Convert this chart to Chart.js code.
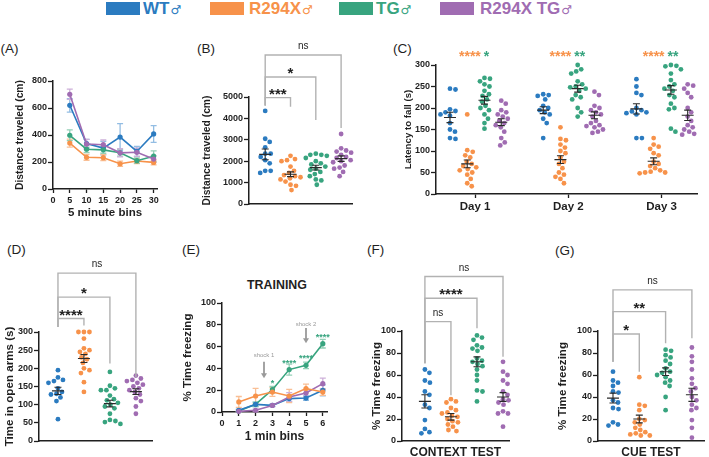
<!DOCTYPE html>
<html>
<head>
<meta charset="utf-8">
<script src="https://cdn.jsdelivr.net/npm/chart.js"></script>
<style>
  body { margin:0; padding:0; background:#fff; width:709px; height:457px; position:relative; overflow:hidden;
         font-family:"Liberation Sans", Arial, sans-serif; color:#1f1f1f }
  canvas { position:absolute }
  .t { position:absolute; line-height:1; white-space:nowrap }
  .box { position:absolute; top:2px; width:34px; height:13px }
  .leg { position:absolute; top:0px; font-size:17px; font-weight:bold; line-height:17px; white-space:nowrap }
  .leg span { font-family:"DejaVu Sans", sans-serif; font-size:12px; font-weight:normal; margin-left:1px }
</style>
</head>
<body>
<script>
// ---- data ----
const groups = ['WT♂', 'R294X♂', 'TG♂', 'R294X TG♂'];

// (A) open field, 5 minute bins
const binsA = [5, 10, 15, 20, 25, 30];
const openWT = [620, 337, 303, 385, 278, 408];
const openWTsem = [50, 30, 50, 100, 37, 62];
const openR294X = [340, 235, 232, 187, 207, 197];
const openR294Xsem = [30, 22, 22, 20, 18, 18];
const openTG = [398, 295, 290, 268, 210, 243];
const openTGsem = [40, 25, 25, 25, 20, 40];
const openR294XTG = [702, 333, 328, 268, 272, 222];
const openR294XTGsem = [38, 35, 35, 30, 30, 25];

// (B) total distance
const distWT = [4350, 3050, 2900, 2650, 2350, 2350, 2200, 2050, 1900, 1550, 1550, 1450];
const distR294X = [2250, 2100, 2050, 2000, 1750, 1550, 1450, 1350, 1300, 1250, 1200, 1150, 1050, 900, 850, 650];
const distTG = [2350, 2300, 2300, 2250, 2150, 2000, 1900, 1850, 1750, 1650, 1600, 1500, 1400, 1300, 1150, 1100, 900];
const distR294XTG = [3270, 2600, 2500, 2450, 2400, 2300, 2200, 2150, 2050, 2000, 1950, 1800, 1700, 1650, 1500, 1300];
const distMean = [2320, 1390, 1700, 2120];
const distSem = [250, 110, 110, 130];
const distBrackets = [
  {from: 0, to: 1, y: 4970, label: '***', legA: 4600, legB: 4550},
  {from: 0, to: 2, y: 5935, label: '*', legA: 4600, legB: 3925},
  {from: 0, to: 3, y: 6963, label: 'ns', legA: 4600, legB: 3550}
];

// (C) rotarod, per day
const days = ['Day 1', 'Day 2', 'Day 3'];
const rotaWT = [
  [245, 243, 197, 193, 190, 185, 182, 165, 150, 145, 130, 128],
  [232, 230, 228, 220, 205, 200, 195, 190, 185, 175, 165, 130],
  [267, 250, 235, 230, 200, 195, 192, 190, 188, 185, 130, 130]
];
const rotaR294X = [
  [185, 102, 98, 90, 85, 75, 70, 65, 62, 58, 55, 50, 45, 35, 25, 18],
  [155, 128, 125, 115, 108, 100, 95, 85, 75, 70, 60, 50, 45, 40, 35, 25],
  [130, 115, 110, 105, 95, 90, 75, 70, 65, 60, 55, 52, 50, 50, 48]
];
const rotaTG = [
  [270, 268, 262, 255, 250, 240, 232, 228, 220, 215, 205, 200, 195, 185, 175, 165, 152],
  [300, 290, 285, 280, 262, 255, 250, 248, 245, 240, 230, 225, 220, 200, 190, 180],
  [300, 298, 297, 290, 280, 265, 255, 250, 245, 240, 230, 225, 210, 200, 197, 152, 145]
];
const rotaR294XTG = [
  [217, 210, 195, 190, 185, 180, 175, 170, 165, 160, 155, 145, 130, 120, 113],
  [238, 230, 205, 200, 195, 190, 185, 180, 170, 165, 160, 158, 155, 150, 145, 142],
  [255, 252, 245, 235, 225, 200, 190, 180, 170, 160, 155, 150, 145, 140, 138]
];
const rotaMean = [[178, 70, 218, 167], [195, 80, 245, 183], [198, 76, 242, 183]];
const rotaSem = [[12, 9, 9, 8], [8, 9, 8, 8], [12, 8, 10, 12]];
const rotaStarsR294X = ['****', '****', '****'];
const rotaStarsTG = ['*', '**', '**'];

// (D) elevated plus maze
const openArmsWT = [195, 175, 168, 165, 160, 145, 135, 130, 128, 120, 110, 60];
const openArmsR294X = [300, 300, 300, 282, 255, 250, 245, 240, 230, 225, 215, 200, 195, 187, 162, 135];
const openArmsTG = [190, 152, 145, 140, 140, 125, 115, 112, 105, 100, 95, 90, 75, 58, 55, 52, 47];
const openArmsR294XTG = [180, 172, 168, 165, 160, 155, 150, 145, 140, 135, 128, 118, 110, 95, 75];
const openArmsMean = [138, 227, 103, 136];
const openArmsSem = [10, 11, 9, 8];
const openArmsBrackets = [
  {from: 0, to: 1, y: 337, label: '****', legA: 314, legB: 318},
  {from: 0, to: 2, y: 396, label: '*', legA: 314, legB: 213},
  {from: 0, to: 3, y: 462, label: 'ns', legA: 314, legB: 176}
];

// (E) training, 1 min bins
const binsE = [1, 2, 3, 4, 5, 6];
const trainWT = [1.6, 7, 6.1, 12.3, 12.8, 19.9];
const trainWTsem = [1, 2, 1, 3, 2, 5];
const trainR294X = [9.2, 14.7, 18.3, 14.7, 21.5, 18.3];
const trainR294Xsem = [5, 7, 4, 6, 4, 3];
const trainTG = [1, 7, 20.5, 38.9, 42.8, 62.7];
const trainTGsem = [1, 2, 3, 5, 3, 4];
const trainR294XTG = [0.6, 1.6, 6, 13.8, 17.4, 26];
const trainR294XTGsem = [0.5, 1, 1, 4, 3, 5];
const trainStarX = [3, 4, 5, 6];
const trainStarY = [29, 47, 52, 71];
const trainStars = ['*', '****', '****', '****'];
const shocks = [
  {x: 2.5, label: 'shock 1', textY: 52, from: 46, to: 31},
  {x: 5, label: 'shock 2', textY: 81, from: 77, to: 63}
];

// (F) context test
const contextWT = [65, 62, 55, 53, 45, 42, 33, 30, 19, 11, 8, 7];
const contextR294X = [38, 36, 35, 30, 28, 26, 25, 23, 22, 20, 18, 17, 15, 13, 10, 9];
const contextTG = [96, 94, 92, 87, 85, 84, 82, 75, 73, 72, 70, 68, 65, 60, 55, 46, 45, 36];
const contextR294XTG = [72, 63, 60, 55, 52, 45, 42, 38, 37, 35, 33, 27, 25, 25, 24, 13];
const contextMean = [36, 22, 72, 40];
const contextSem = [6, 3, 4.5, 4];
const contextBrackets = [
  {from: 0, to: 1, y: 108.5, label: 'ns', legA: 70.6, legB: 41.7},
  {from: 0, to: 2, y: 129.8, label: '****', legA: 70.6, legB: 102.5},
  {from: 0, to: 3, y: 149.5, label: 'ns', legA: 70.6, legB: 76.6}
];

// (G) cue test
const cueWT = [63, 55, 53, 50, 45, 44, 37, 35, 30, 29, 17, 15, 14];
const cueR294X = [58, 33, 32, 28, 20, 19, 17, 15, 12, 10, 8, 7, 6, 5, 5];
const cueTG = [83, 82, 78, 76, 73, 70, 66, 63, 62, 60, 58, 55, 53, 50, 40, 28];
const cueR294XTG = [85, 77, 72, 65, 57, 52, 48, 45, 40, 37, 33, 30, 28, 19, 12, 3];
const cueMean = [39, 20, 63, 42];
const cueSem = [4.5, 3.5, 3.5, 6];
const cueBrackets = [
  {from: 0, to: 1, y: 97.3, label: '*', legA: 72, legB: 63},
  {from: 0, to: 2, y: 117.6, label: '**', legA: 72, legB: 88.8},
  {from: 0, to: 3, y: 137.4, label: 'ns', legA: 72, legB: 93.3}
];

// ---- style / layout ----
const COLORS = ['#2b7bc0', '#f7924a', '#38a47f', '#a06cb2'];
const LIGHT = ['#93bde3', '#f9bf95', '#94d0b7', '#cdb0d9'];
const INK = '#1f1f1f';
const FONT = '"Liberation Sans", Arial, sans-serif';
Chart.defaults.font.family = FONT;
Chart.defaults.color = INK;

// canvas box (cx,cy,w,h), chart area (l,t,r,b), y title centre x (ty)
const P = {
  A: {cx: 0, cy: 40, w: 180, h: 190, l: 53, t: 81, r: 157, b: 189, ty: 20},
  B: {cx: 180, cy: 40, w: 180, h: 190, l: 249, t: 97, r: 352, b: 204, ty: 207},
  C: {cx: 360, cy: 40, w: 349, h: 190, l: 436, t: 65, r: 697, b: 194, ty: 408},
  D: {cx: 0, cy: 230, w: 180, h: 227, l: 39, t: 332, r: 152, b: 441, ty: 10},
  E: {cx: 180, cy: 230, w: 180, h: 227, l: 222, t: 303, r: 327, b: 412, ty: 188},
  F: {cx: 360, cy: 230, w: 175, h: 227, l: 402, t: 331, r: 509, b: 441, ty: 377},
  G: {cx: 535, cy: 230, w: 174, h: 227, l: 598, t: 331, r: 704, b: 441, ty: 563}
};

function addText(txt, x, baseline, size, opts = {}) {
  const d = document.createElement('div');
  d.className = 't';
  d.textContent = txt;
  d.style.fontSize = size + 'px';
  d.style.fontWeight = opts.bold ? 'bold' : 'normal';
  d.style.top = (baseline - 0.85 * size) + 'px';
  d.style.left = x + 'px';
  if (opts.center) d.style.transform = 'translateX(-50%)';
  document.body.appendChild(d);
}

// legend
[[106, 143], [210, 249], [339, 376], [440, 480]].forEach(([bx, tx], i) => {
  const b = document.createElement('div');
  b.className = 'box'; b.style.left = bx + 'px'; b.style.background = COLORS[i];
  document.body.appendChild(b);
  const t = document.createElement('div');
  t.className = 'leg'; t.style.left = tx + 'px'; t.style.color = COLORS[i];
  t.innerHTML = groups[i].replace('♂', '') + '<span>♂</span>';
  document.body.appendChild(t);
});

// panel letters
[['(A)', 0.5, 53.5], ['(B)', 197, 53.5], ['(C)', 393, 53], ['(D)', 7, 254.5],
 ['(E)', 182, 254.5], ['(F)', 367, 254.5], ['(G)', 555, 255.5]].forEach(([s, x, y]) => addText(s, x, y, 13.5));
addText('TRAINING', 277, 290, 12.4, {bold: true, center: true});

function makeCanvas(p) {
  const c = document.createElement('canvas');
  c.width = p.w; c.height = p.h;
  c.style.left = p.cx + 'px'; c.style.top = p.cy + 'px';
  document.body.appendChild(c);
  return c;
}

const TICKFONT = {size: 9, weight: 'bold'};

function yAxis(p, min, max, step, title, tsize) {
  return {
    type: 'linear', min, max,
    ticks: {stepSize: step, includeBounds: false, font: TICKFONT, color: INK, padding: 1, callback: v => String(v)},
    grid: {drawOnChartArea: false, drawTicks: true, tickLength: 5, tickColor: INK, tickWidth: 1.3},
    border: {color: INK, width: 1.5},
    title: {display: true, text: title, color: INK, font: {size: tsize, weight: 'bold'},
            padding: {top: p.ty - p.cx - 0.6 * tsize, bottom: 0}},
    afterFit: s => { s.width = p.l - p.cx; }
  };
}

function xAxis(p, min, max, extra = {}) {
  const ax = {
    type: 'linear', min, max,
    ticks: {display: false},
    grid: {drawOnChartArea: false, drawTicks: false, tickColor: INK, tickWidth: 1.3},
    border: {color: INK, width: 1.5},
    title: {display: false},
    afterFit: s => { s.height = p.cy + p.h - p.b; }
  };
  if (extra.step) {
    ax.ticks = {display: true, stepSize: extra.step, includeBounds: false, font: TICKFONT, color: INK, padding: 2,
                callback: v => String(v)};
    ax.grid.drawTicks = true; ax.grid.tickLength = 4;
  }
  if (extra.title) {
    ax.title = {display: true, text: extra.title, color: INK, font: {size: extra.tsize, weight: 'bold'},
                padding: {top: 0, bottom: extra.tpad}};
  }
  return ax;
}

function baseOptions(p, scales) {
  return {
    responsive: false, animation: false, events: [],
    layout: {padding: {left: 0, top: p.t - p.cy, right: p.cx + p.w - p.r, bottom: 0}},
    plugins: {legend: {display: false}, tooltip: {enabled: false}, title: {display: false}},
    scales
  };
}

// beeswarm offsets in pixels, from the values and the y pixel scale
function swarm(values, pxY, r) {
  const d = 2 * r + 0.6;
  const idx = values.map((_, i) => i).sort((a, b) => values[b] - values[a]);
  const placed = [];
  const out = new Array(values.length).fill(0);
  idx.forEach(i => {
    const py = values[i] * pxY;
    for (let k = 0; k < 400; k++) {
      const cx = (k % 2 ? 1 : -1) * Math.ceil(k / 2) * 0.5;
      if (placed.every(q => (q.x - cx) ** 2 + (q.y - py) ** 2 >= d * d)) {
        placed.push({x: cx, y: py}); out[i] = cx; break;
      }
    }
  });
  return out;
}

function dotSet(values, xc, pxX, pxY, color) {
  const offs = swarm(values, pxY, 2.4);
  return {
    data: values.map((v, i) => ({x: xc + offs[i] / pxX, y: v})),
    backgroundColor: color, borderWidth: 0, pointRadius: 2.4, pointHoverRadius: 2.4, clip: false
  };
}

function lineSet(xs, ys, color) {
  return {
    data: xs.map((x, i) => ({x, y: ys[i]})), showLine: true,
    borderColor: color, borderWidth: 1.6, backgroundColor: color,
    pointRadius: 2.6, pointHoverRadius: 2.6, pointBorderWidth: 0, clip: false
  };
}

// error bars (light) behind the lines
function errPlugin(xs, series) {
  return {id: 'errbars', beforeDatasetsDraw(chart) {
    const {ctx, scales: {x, y}} = chart;
    ctx.save(); ctx.lineWidth = 1.3;
    series.forEach(s => {
      ctx.strokeStyle = s.color;
      xs.forEach((xv, i) => {
        const px = x.getPixelForValue(xv);
        const lo = y.getPixelForValue(s.y[i] - s.e[i]), hi = y.getPixelForValue(s.y[i] + s.e[i]);
        ctx.beginPath();
        ctx.moveTo(px, lo); ctx.lineTo(px, hi);
        ctx.moveTo(px - 3, lo); ctx.lineTo(px + 3, lo);
        ctx.moveTo(px - 3, hi); ctx.lineTo(px + 3, hi);
        ctx.stroke();
      });
    });
    ctx.restore();
  }};
}

// mean +/- SEM lines on dot plots
function meanPlugin(items) {
  return {id: 'meansem', afterDatasetsDraw(chart) {
    const {ctx, scales: {x, y}} = chart;
    ctx.save(); ctx.strokeStyle = '#2a2a2a'; ctx.lineWidth = 1.1;
    items.forEach(it => {
      const px = x.getPixelForValue(it.x), pm = y.getPixelForValue(it.m);
      const lo = y.getPixelForValue(it.m - it.s), hi = y.getPixelForValue(it.m + it.s);
      ctx.beginPath();
      ctx.moveTo(px - 6, pm); ctx.lineTo(px + 6, pm);
      ctx.moveTo(px, lo); ctx.lineTo(px, hi);
      ctx.moveTo(px - 3.5, lo); ctx.lineTo(px + 3.5, lo);
      ctx.moveTo(px - 3.5, hi); ctx.lineTo(px + 3.5, hi);
      ctx.stroke();
    });
    ctx.restore();
  }};
}

// significance brackets
function bracketPlugin(list) {
  return {id: 'brackets', afterDraw(chart) {
    const {ctx, scales: {x, y}} = chart;
    ctx.save();
    list.forEach(b => {
      const x0 = x.getPixelForValue(b.from), x1 = x.getPixelForValue(b.to), yl = y.getPixelForValue(b.y);
      ctx.strokeStyle = '#b2b2b2'; ctx.lineWidth = 1.4;
      ctx.beginPath();
      ctx.moveTo(x0, y.getPixelForValue(b.legA)); ctx.lineTo(x0, yl);
      ctx.lineTo(x1, yl); ctx.lineTo(x1, y.getPixelForValue(b.legB));
      ctx.stroke();
      ctx.fillStyle = INK; ctx.textAlign = 'center'; ctx.textBaseline = 'alphabetic';
      if (b.label === 'ns') {
        ctx.font = '10px ' + FONT;
        ctx.fillText('ns', (x0 + x1) / 2, yl - 5.7);
      } else {
        ctx.font = 'bold 15px ' + FONT;
        ctx.fillText(b.label, (x0 + x1) / 2, yl + 1);
      }
    });
    ctx.restore();
  }};
}

// ---- (A) ----
(() => {
  const p = P.A;
  const series = [[openWT, openWTsem], [openR294X, openR294Xsem], [openTG, openTGsem], [openR294XTG, openR294XTGsem]];
  new Chart(makeCanvas(p), {
    type: 'scatter',
    data: {datasets: [3, 2, 1, 0].map(g => lineSet(binsA, series[g][0], COLORS[g]))},
    options: baseOptions(p, {
      x: xAxis(p, 0, 31, {step: 5, title: '5 minute bins', tsize: 11.5, tpad: 10}),
      y: yAxis(p, 0, 800, 200, 'Distance traveled (cm)', 10.3)
    }),
    plugins: [errPlugin(binsA, series.map((s, g) => ({y: s[0], e: s[1], color: LIGHT[g]})))]
  });
})();

// dot plot panels B, D, F, G
function dotPanel(p, lists, means, sems, brackets, ymax, ystep, ytitle, ytsize, xmin, xmax, xtitle) {
  const pxX = (p.r - p.l) / (xmax - xmin), pxY = (p.b - p.t) / ymax;
  const extra = xtitle ? {title: xtitle, tsize: 12, tpad: -3} : {};
  new Chart(makeCanvas(p), {
    type: 'scatter',
    data: {datasets: lists.map((vals, g) => dotSet(vals, g, pxX, pxY, COLORS[g]))},
    options: baseOptions(p, {
      x: xAxis(p, xmin, xmax, extra),
      y: yAxis(p, 0, ymax, ystep, ytitle, ytsize)
    }),
    plugins: [meanPlugin(means.map((m, g) => ({x: g, m, s: sems[g]}))), bracketPlugin(brackets)]
  });
}

dotPanel(P.B, [distWT, distR294X, distTG, distR294XTG], distMean, distSem, distBrackets,
         5000, 1000, 'Distance traveled (cm)', 10.3, -0.64, 3.43);
dotPanel(P.D, [openArmsWT, openArmsR294X, openArmsTG, openArmsR294XTG], openArmsMean, openArmsSem, openArmsBrackets,
         300, 50, 'Time in open arms (s)', 11.6, -0.73, 3.62);
dotPanel(P.F, [contextWT, contextR294X, contextTG, contextR294XTG], contextMean, contextSem, contextBrackets,
         100, 20, '% Time freezing', 11.6, -0.88, 3.23, 'CONTEXT TEST');
dotPanel(P.G, [cueWT, cueR294X, cueTG, cueR294XTG], cueMean, cueSem, cueBrackets,
         100, 20, '% Time freezing', 11.6, -0.57, 3.46, 'CUE TEST');

// ---- (C) ----
(() => {
  const p = P.C;
  const xmin = 0.58, xmax = 3.38, groupOff = [-0.27, -0.085, 0.1, 0.28];
  const pxX = (p.r - p.l) / (xmax - xmin), pxY = (p.b - p.t) / 300;
  const lists = [rotaWT, rotaR294X, rotaTG, rotaR294XTG];
  const sets = [], items = [];
  days.forEach((_, d) => lists.forEach((l, g) => {
    sets.push(dotSet(l[d], d + 1 + groupOff[g], pxX, pxY, COLORS[g]));
    items.push({x: d + 1 + groupOff[g], m: rotaMean[d][g], s: rotaSem[d][g]});
  }));
  const x = xAxis(p, xmin, xmax);
  x.ticks = {display: true, font: {size: 11.5, weight: 'bold'}, color: INK, padding: 2, callback: v => days[v - 1]};
  x.grid.drawTicks = true; x.grid.tickLength = 4;
  x.afterBuildTicks = s => { s.ticks = days.map((_, i) => ({value: i + 1})); };
  const stars = {id: 'stars', afterDraw(chart) {
    const {ctx, scales} = chart;
    ctx.save(); ctx.font = 'bold 14px ' + FONT; ctx.textBaseline = 'alphabetic'; ctx.textAlign = 'left';
    const yb = scales.y.getPixelForValue(328) + 8;
    days.forEach((_, d) => {
      const w1 = ctx.measureText(rotaStarsR294X[d]).width, w2 = ctx.measureText(rotaStarsTG[d]).width;
      const x0 = scales.x.getPixelForValue(d + 1) - (w1 + 3 + w2) / 2 - 1;
      ctx.fillStyle = COLORS[1]; ctx.fillText(rotaStarsR294X[d], x0, yb);
      ctx.fillStyle = COLORS[2]; ctx.fillText(rotaStarsTG[d], x0 + w1 + 3, yb);
    });
    ctx.restore();
  }};
  new Chart(makeCanvas(p), {
    type: 'scatter',
    data: {datasets: sets},
    options: baseOptions(p, {x, y: yAxis(p, 0, 300, 50, 'Latency to fall (s)', 9.7)}),
    plugins: [meanPlugin(items), stars]
  });
})();

// ---- (E) ----
(() => {
  const p = P.E;
  const series = [[trainWT, trainWTsem], [trainR294X, trainR294Xsem], [trainTG, trainTGsem], [trainR294XTG, trainR294XTGsem]];
  const notes = {id: 'notes', afterDraw(chart) {
    const {ctx, scales: {x, y}} = chart;
    ctx.save(); ctx.textAlign = 'center'; ctx.textBaseline = 'alphabetic';
    ctx.fillStyle = COLORS[2]; ctx.font = 'bold 9px ' + FONT;
    trainStarX.forEach((xv, i) => ctx.fillText(trainStars[i], x.getPixelForValue(xv), y.getPixelForValue(trainStarY[i]) + 5.2));
    shocks.forEach(s => {
      const px = x.getPixelForValue(s.x);
      ctx.fillStyle = '#9a9a9a'; ctx.font = '6px ' + FONT;
      ctx.fillText(s.label, px, y.getPixelForValue(s.textY) + 2);
      const y0 = y.getPixelForValue(s.from), y1 = y.getPixelForValue(s.to);
      ctx.strokeStyle = '#9a9a9a'; ctx.lineWidth = 1.8;
      ctx.beginPath(); ctx.moveTo(px, y0); ctx.lineTo(px, y1 - 4); ctx.stroke();
      ctx.beginPath(); ctx.moveTo(px - 3, y1 - 5); ctx.lineTo(px + 3, y1 - 5); ctx.lineTo(px, y1); ctx.closePath(); ctx.fill();
    });
    ctx.restore();
  }};
  new Chart(makeCanvas(p), {
    type: 'scatter',
    data: {datasets: [1, 3, 0, 2].map(g => lineSet(binsE, series[g][0], COLORS[g]))},
    options: baseOptions(p, {
      x: xAxis(p, 0, 6.25, {step: 1, title: '1 min bins', tsize: 12, tpad: 12.8}),
      y: yAxis(p, 0, 100, 20, '% Time freezing', 11.6)
    }),
    plugins: [errPlugin(binsE, series.map((s, g) => ({y: s[0], e: s[1], color: LIGHT[g]}))), notes]
  });
})();
</script>
</body>
</html>
